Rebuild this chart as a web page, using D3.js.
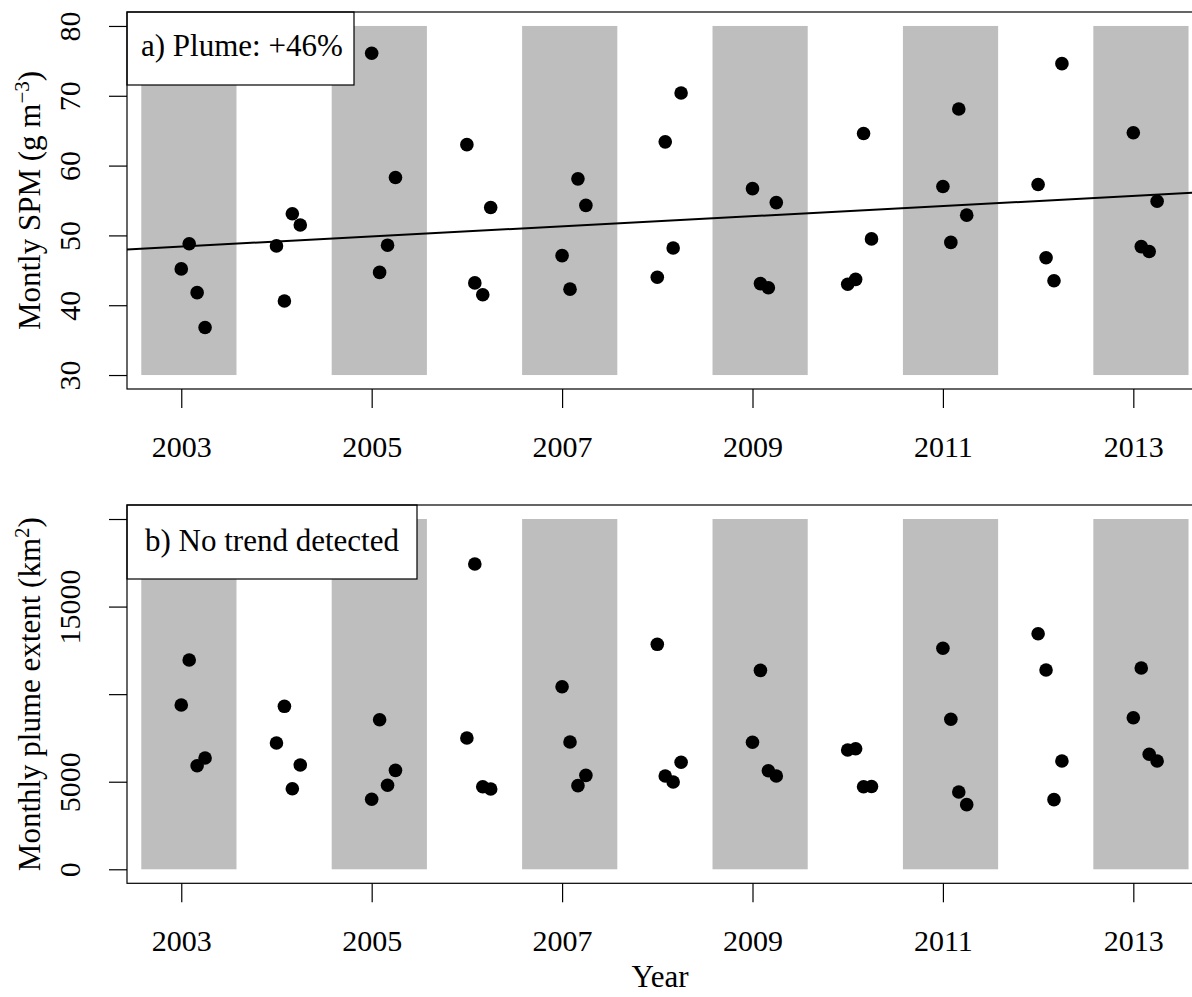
<!DOCTYPE html>
<html>
<head>
<meta charset="utf-8">
<script src="https://cdn.jsdelivr.net/npm/d3@7"></script>
<style>
  body { margin: 0; background: #fff; }
  text { font-family: "Liberation Serif", "Times New Roman", Times, serif; font-size: 30px; fill: #000; }
  text.legend, text.title { font-size: 31px; }
</style>
</head>
<body>
<svg id="chart" width="1192" height="997"></svg>
<script>
// Observation years and months (January to April of each year)
const years = [2003, 2004, 2005, 2006, 2007, 2008, 2009, 2010, 2011, 2012, 2013];
const months = [1, 2, 3, 4];

// Monthly SPM (g m^-3), one row per year, Jan..Apr
const spm = [
  [45.2, 48.8, 41.8, 36.8],
  [48.5, 40.6, 53.1, 51.5],
  [76.1, 44.7, 48.6, 58.3],
  [63.0, 43.2, 41.5, 54.0],
  [47.1, 42.3, 58.1, 54.3],
  [44.0, 63.4, 48.2, 70.4],
  [56.7, 43.1, 42.5, 54.7],
  [43.0, 43.7, 64.6, 49.5],
  [57.0, 49.0, 68.1, 52.9],
  [57.3, 46.8, 43.5, 74.6],
  [64.7, 48.4, 47.7, 54.9]
];

// Monthly plume extent (km^2), one row per year, Jan..Apr
const plumeExtent = [
  [9380, 11950, 5915, 6355],
  [7210, 9305, 4600, 5955],
  [4000, 8540, 4795, 5650],
  [7495, 17430, 4715, 4585],
  [10425, 7270, 4775, 5365],
  [12845, 5325, 4985, 6110],
  [7250, 11360, 5630, 5325],
  [6810, 6885, 4715, 4730],
  [12620, 8565, 4415, 3690],
  [13450, 11380, 3975, 6185],
  [8655, 11495, 6565, 6185]
];

// Shaded alternate-year periods (decimal years)
const bandStart = [2002.58, 2004.58, 2006.58, 2008.58, 2010.58, 2012.58];
const bandEnd   = [2003.58, 2005.58, 2007.58, 2009.58, 2011.58, 2013.58];

// Linear SPM trend, given by its value at two years
const trendYears = [2003, 2013];
const trendSPM = [48.4, 55.65];

// Axis ticks and labels
const xTicks = [2003, 2005, 2007, 2009, 2011, 2013];
const spmTicks = [30, 40, 50, 60, 70, 80];
const spmTickLabels = ["30", "40", "50", "60", "70", "80"];
const extentTicks = [0, 5000, 10000, 15000, 20000];
const extentTickLabels = ["0", "5000", "", "15000", ""];

const svg = d3.select("#chart");
svg.append("rect").attr("width", 1192).attr("height", 997).attr("fill", "#fff");

const left = 127, right = 1193.3;
const x = d3.scaleLinear().domain([2002.43, 2013.63]).range([left, right]);

function observations(values) {
  return years.flatMap((yr, i) => months.map((m, j) => ({ t: yr + (m - 1) / 12, v: values[i][j] })));
}

function panel(opt) {
  const y = d3.scaleLinear().domain(opt.yDomain).range([opt.bottom, opt.top]);
  const g = svg.append("g");
  const clipId = "clip-" + opt.id;
  g.append("clipPath").attr("id", clipId)
    .append("rect").attr("x", left).attr("y", opt.top)
    .attr("width", right - left).attr("height", opt.bottom - opt.top);

  const plot = g.append("g").attr("clip-path", `url(#${clipId})`);
  const bandExt = d3.extent(opt.ticks);

  // shaded periods
  plot.selectAll("rect.band").data(bandStart).join("rect")
    .attr("class", "band")
    .attr("x", d => x(d))
    .attr("width", (d, i) => x(bandEnd[i]) - x(d))
    .attr("y", y(bandExt[1]))
    .attr("height", y(bandExt[0]) - y(bandExt[1]))
    .attr("fill", "#bebebe");

  // monthly points
  plot.selectAll("circle").data(observations(opt.values)).join("circle")
    .attr("cx", d => x(d.t))
    .attr("cy", d => y(d.v))
    .attr("r", 6.8)
    .attr("fill", "#000");

  // optional trend line across the whole panel
  if (opt.trend) {
    const dom = x.domain();
    plot.append("line")
      .attr("x1", x(dom[0])).attr("y1", y(opt.trend(dom[0])))
      .attr("x2", x(dom[1])).attr("y2", y(opt.trend(dom[1])))
      .attr("stroke", "#000").attr("stroke-width", 2);
  }

  // legend box in the top-left corner
  g.append("rect")
    .attr("x", left).attr("y", opt.top)
    .attr("width", opt.legendWidth).attr("height", opt.legendHeight)
    .attr("fill", "#fff").attr("stroke", "#000").attr("stroke-width", 1.2);
  g.append("text")
    .attr("class", "legend")
    .attr("x", opt.legendX).attr("y", opt.top + opt.legendBaseline)
    .text(opt.legendText);

  // frame
  g.append("rect")
    .attr("x", left).attr("y", opt.top)
    .attr("width", right - left).attr("height", opt.bottom - opt.top)
    .attr("fill", "none").attr("stroke", "#000").attr("stroke-width", 1.2);

  // y axis with labels parallel to the axis
  g.append("g").attr("transform", `translate(${left},0)`)
    .call(d3.axisLeft(y).tickValues(opt.ticks).tickFormat((d, i) => opt.tickLabels[i]).tickSize(18))
    .call(a => a.select(".domain").remove())
    .call(a => a.selectAll(".tick line").attr("stroke", "#000").attr("stroke-width", 1.2))
    .call(a => a.selectAll(".tick text")
      .attr("x", 0).attr("y", 0).attr("dy", 0)
      .attr("text-anchor", "middle")
      .attr("transform", "translate(-47,0) rotate(-90)"));

  // x axis
  g.append("g").attr("transform", `translate(0,${opt.bottom})`)
    .call(d3.axisBottom(x).tickValues(xTicks).tickFormat(d3.format("d")).tickSize(19))
    .call(a => a.select(".domain").remove())
    .call(a => a.selectAll(".tick line").attr("stroke", "#000").attr("stroke-width", 1.2))
    .call(a => a.selectAll(".tick text").attr("y", 68).attr("dy", 0));

  // y axis title with superscript unit
  const title = g.append("text")
    .attr("class", "title")
    .attr("transform", `translate(40,${(opt.top + opt.bottom) / 2}) rotate(-90)`)
    .attr("text-anchor", "middle");
  title.append("tspan").text(opt.titleMain);
  title.append("tspan").attr("dy", -11).style("font-size", "21px").text(opt.titleSup);
  title.append("tspan").attr("dy", 11).text(")");

  return y;
}

panel({
  id: "spm", top: 12, bottom: 389, yDomain: [28, 82],
  ticks: spmTicks, tickLabels: spmTickLabels, values: spm,
  trend: d3.scaleLinear().domain(trendYears).range(trendSPM),
  legendText: "a) Plume: +46%", legendWidth: 227, legendHeight: 73,
  legendX: 141, legendBaseline: 44,
  titleMain: "Montly SPM (g m", titleSup: "\u22123"
});

panel({
  id: "extent", top: 505, bottom: 883.3, yDomain: [-800, 20800],
  ticks: extentTicks, tickLabels: extentTickLabels, values: plumeExtent,
  trend: null,
  legendText: "b) No trend detected", legendWidth: 290, legendHeight: 74,
  legendX: 145, legendBaseline: 46,
  titleMain: "Monthly plume extent (km", titleSup: "2"
});

svg.append("text")
  .attr("class", "title")
  .attr("x", 660).attr("y", 987)
  .attr("text-anchor", "middle")
  .text("Year");
</script>
</body>
</html>
